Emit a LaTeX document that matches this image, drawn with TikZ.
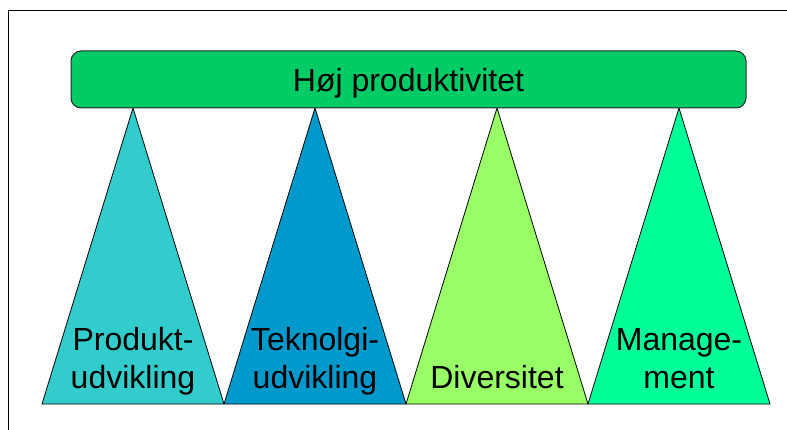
\documentclass[tikz,border=0pt]{standalone}
\usepackage{fontspec}
\setmainfont{Liberation Sans}
\definecolor{barfill}{HTML}{00CC66}
\definecolor{tria}{HTML}{33CCCC}
\definecolor{trib}{HTML}{0099CC}
\definecolor{tric}{HTML}{99FF66}
\definecolor{trid}{HTML}{00FF99}
\tikzset{
  pillar/.style={draw=black, line width=0.8pt, line join=miter},
  lbl/.style={anchor=base, inner sep=0pt, font=\fontsize{32}{37}\selectfont},
  bar/.style={draw=black!85, line width=1pt, fill=barfill, rounded corners=10pt,
    minimum width=675pt, minimum height=57pt, inner sep=0pt},
}
\begin{document}
\begin{tikzpicture}[x=1pt,y=-1pt]
\useasboundingbox (0,0) rectangle (787,430);
% frame
\coordinate (fbl) at (8.3,431);
\coordinate (ftl) at (8.3,10.3);
\coordinate (ftr) at (788,10.3);
\draw[line width=1pt] (fbl) -- (ftl) -- (ftr);
% pillars
\coordinate (a1) at (133,108);
\coordinate (a2) at (315,108);
\coordinate (a3) at (497,108);
\coordinate (a4) at (679,108);
\coordinate (b0) at (42,404);
\coordinate (b1) at (224,404);
\coordinate (b2) at (406,404);
\coordinate (b3) at (588,404);
\coordinate (b4) at (770,404);
\draw[pillar, fill=tria] (b0) -- (a1) -- (b1) -- cycle;
\draw[pillar, fill=trib] (b1) -- (a2) -- (b2) -- cycle;
\draw[pillar, fill=tric] (b2) -- (a3) -- (b3) -- cycle;
\draw[pillar, fill=trid] (b3) -- (a4) -- (b4) -- cycle;
% top bar
\node[bar] (top) at (408.5,79.5) {};
\node[lbl, font=\fontsize{32}{37}\selectfont] (toptext) at (408.5,92) {Høj produktivitet};
% labels
\node[lbl] (p1a) at (133,350) {Produkt-};
\node[lbl] (p1b) at (133,388) {udvikling};
\node[lbl] (p2a) at (315,350) {Teknolgi-};
\node[lbl] (p2b) at (315,388) {udvikling};
\node[lbl] (p3)  at (497,388) {Diversitet};
\node[lbl] (p4a) at (679,350) {Manage-};
\node[lbl] (p4b) at (679,388) {ment};
\end{tikzpicture}
\end{document}
